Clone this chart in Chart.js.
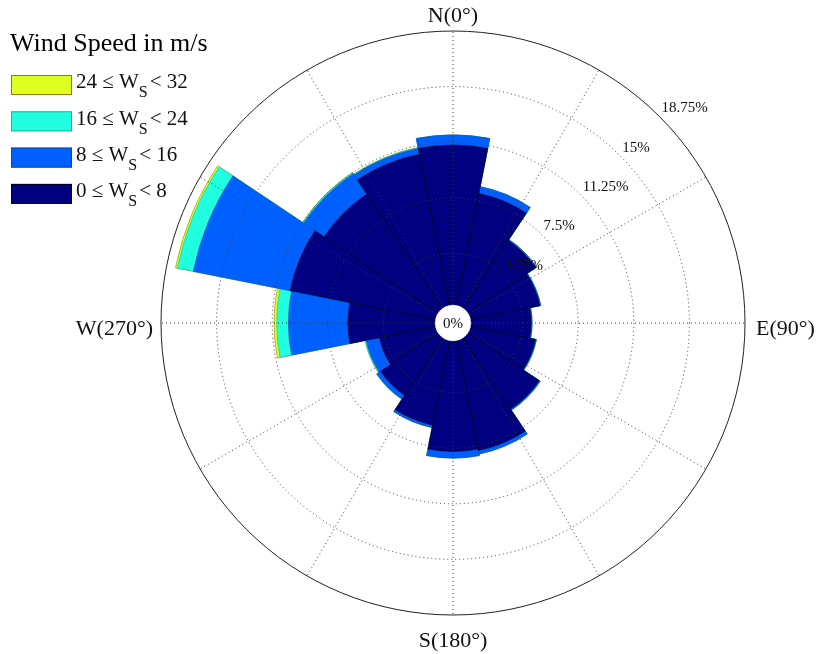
<!DOCTYPE html>
<html>
<head>
  <meta charset="UTF-8">
  <script src="https://cdn.jsdelivr.net/npm/chart.js@4.4.0/dist/chart.umd.min.js"></script>
  <style>
    body { margin: 0; background: #fff; }
    #wrap { width: 817px; height: 654px; }
  </style>
</head>
<body>
  <div id="wrap"><canvas id="myChart" width="817" height="654"></canvas></div>
  <script>
    // 16 compass sectors, clockwise from north
    const directions = ['N', 'NNE', 'NE', 'ENE', 'E', 'ESE', 'SE', 'SSE', 'S', 'SSW', 'SW', 'WSW', 'W', 'WNW', 'NW', 'NNW'];

    // frequency (%) of each speed bin per direction
    const speed0to8   = [11.06, 7.96, 5.75, 5.02, 4.32, 4.72, 6.04, 7.82, 7.72, 6.07, 4.92, 4.11, 6.14, 10.25, 9.51, 10.66];
    const speed8to16  = [0.68, 0.47, 0.08, 0.07, 0.07, 0.07, 0.09, 0.24, 0.44, 0.17, 0.31, 0.91, 4.02, 6.66, 1.65, 0.40];
    const speed16to24 = [0, 0, 0, 0, 0, 0, 0, 0, 0.01, 0, 0.02, 0.07, 0.79, 1.10, 0.08, 0.05];
    const speed24to32 = [0, 0, 0, 0, 0, 0, 0, 0, 0, 0, 0, 0.01, 0.18, 0.13, 0.03, 0.02];

    const binRanges = [['0', '8'], ['8', '16'], ['16', '24'], ['24', '32']];
    const binColors = ['#000080', '#0060ff', '#20ffdf', '#dfff20'];
    const binBorders = ['rgba(0,0,0,0.7)', '#0048c0', '#10b8a0', '#a07800'];

    const ringTicks = [0, 3.75, 7.5, 11.25, 15, 18.75];
    const compass = [['N(0°)', 0], ['E(90°)', 90], ['S(180°)', 180], ['W(270°)', 270]];

    const serif = '"Liberation Serif", "Times New Roman", serif';
    const holePx = 14; // radius where 0% sits
    const plotR = 292;

    // stacked (cumulative) values, inner bin first so it is drawn on top
    const bins = [speed0to8, speed8to16, speed16to24, speed24to32];
    let running = directions.map(() => 0);
    const datasets = bins.map((b, i) => {
      running = running.map((v, k) => v + b[k]);
      return {
        label: binRanges[i].join('-'),
        data: running.slice(),
        backgroundColor: binColors[i],
        borderColor: binBorders[i],
        borderWidth: i === 0 ? 0.8 : 0.6
      };
    });

    const roseDecor = {
      id: 'roseDecor',
      afterDatasetsDraw(chart) {
        const ctx = chart.ctx;
        const s = chart.scales.r;
        const cx = s.xCenter, cy = s.yCenter;
        const R = s.getDistanceFromCenterForValue(ringTicks[ringTicks.length - 1]);
        ctx.save();

        // dotted rings
        ctx.lineWidth = 1;
        ctx.strokeStyle = '#3a3a3a';
        ctx.setLineDash([1, 3]);
        ringTicks.slice(1, -1).forEach(v => {
          ctx.beginPath();
          ctx.arc(cx, cy, s.getDistanceFromCenterForValue(v), 0, Math.PI * 2);
          ctx.stroke();
        });

        // dotted spokes every 30 degrees
        for (let a = 0; a < 360; a += 30) {
          const t = (a - 90) * Math.PI / 180;
          ctx.beginPath();
          ctx.moveTo(cx + 18 * Math.cos(t), cy + 18 * Math.sin(t));
          ctx.lineTo(cx + R * Math.cos(t), cy + R * Math.sin(t));
          ctx.stroke();
        }

        // outer circle
        ctx.setLineDash([]);
        ctx.strokeStyle = '#222';
        ctx.beginPath();
        ctx.arc(cx, cy, R, 0, Math.PI * 2);
        ctx.stroke();

        // centre hole
        ctx.fillStyle = '#fff';
        ctx.beginPath();
        ctx.arc(cx, cy, 18, 0, Math.PI * 2);
        ctx.fill();
        ctx.setLineDash([1, 3]);
        ctx.strokeStyle = '#999';
        ctx.stroke();
        ctx.setLineDash([]);

        ctx.fillStyle = '#111';
        ctx.font = '15px ' + serif;
        ctx.textAlign = 'center';
        ctx.textBaseline = 'middle';
        ctx.fillText('0%', cx, cy + 1);

        // ring labels along 45 degrees
        ctx.textAlign = 'left';
        ringTicks.slice(1).forEach(v => {
          const d = s.getDistanceFromCenterForValue(v) * Math.SQRT1_2;
          ctx.fillText(v + '%', cx + d + 2, cy - d - 8);
        });

        // compass labels
        ctx.font = '22px ' + serif;
        ctx.textBaseline = 'alphabetic';
        compass.forEach(([txt, ang]) => {
          if (ang === 0) { ctx.textAlign = 'center'; ctx.fillText(txt, cx, cy - R - 9); }
          if (ang === 180) { ctx.textAlign = 'center'; ctx.fillText(txt, cx, cy + R + 32); }
          if (ang === 90) { ctx.textAlign = 'left'; ctx.fillText(txt, cx + R + 11, cy + 12); }
          if (ang === 270) { ctx.textAlign = 'right'; ctx.fillText(txt, cx - R - 8, cy + 12); }
        });
        ctx.restore();
      },
      afterDraw(chart) {
        const ctx = chart.ctx;
        ctx.save();
        ctx.fillStyle = '#000';
        ctx.textAlign = 'left';
        ctx.textBaseline = 'alphabetic';
        ctx.font = '26px ' + serif;
        ctx.fillText('Wind Speed in m/s', 10, 51);

        for (let row = 0; row < binRanges.length; row++) {
          const i = binRanges.length - 1 - row;
          const y = 75 + row * 36.3;
          ctx.fillStyle = binColors[i];
          ctx.fillRect(11, y, 61, 20);
          ctx.strokeStyle = binBorders[i];
          ctx.lineWidth = 1;
          ctx.strokeRect(11.5, y + 0.5, 60, 19);

          ctx.fillStyle = '#111';
          const base = y + 13.3;
          let x = 76;
          ctx.font = '21px ' + serif;
          const a = binRanges[i][0] + ' ≤ W';
          ctx.fillText(a, x, base);
          x += ctx.measureText(a).width;
          ctx.font = '16px ' + serif;
          ctx.fillText('S', x, base + 9);
          x += ctx.measureText('S').width + 2;
          ctx.font = '21px ' + serif;
          ctx.fillText('< ' + binRanges[i][1], x, base);
        }
        ctx.restore();
      }
    };

    const rMax = ringTicks[ringTicks.length - 1];
    const rMin = -rMax * holePx / (plotR - holePx);

    const ctx = document.getElementById('myChart').getContext('2d');
    const chart = new Chart(ctx, {
      type: 'polarArea',
      data: { labels: directions, datasets: datasets },
      options: {
        responsive: false,
        animation: false,
        layout: { padding: { left: 161, right: 72, top: 31, bottom: 39 } },
        plugins: {
          legend: { display: false },
          tooltip: { enabled: false }
        },
        scales: {
          r: {
            min: rMin,
            max: rMax,
            startAngle: -11.25,
            ticks: { display: false },
            grid: { display: false },
            angleLines: { display: false },
            pointLabels: { display: false }
          }
        }
      },
      plugins: [roseDecor]
    });
  </script>
</body>
</html>
